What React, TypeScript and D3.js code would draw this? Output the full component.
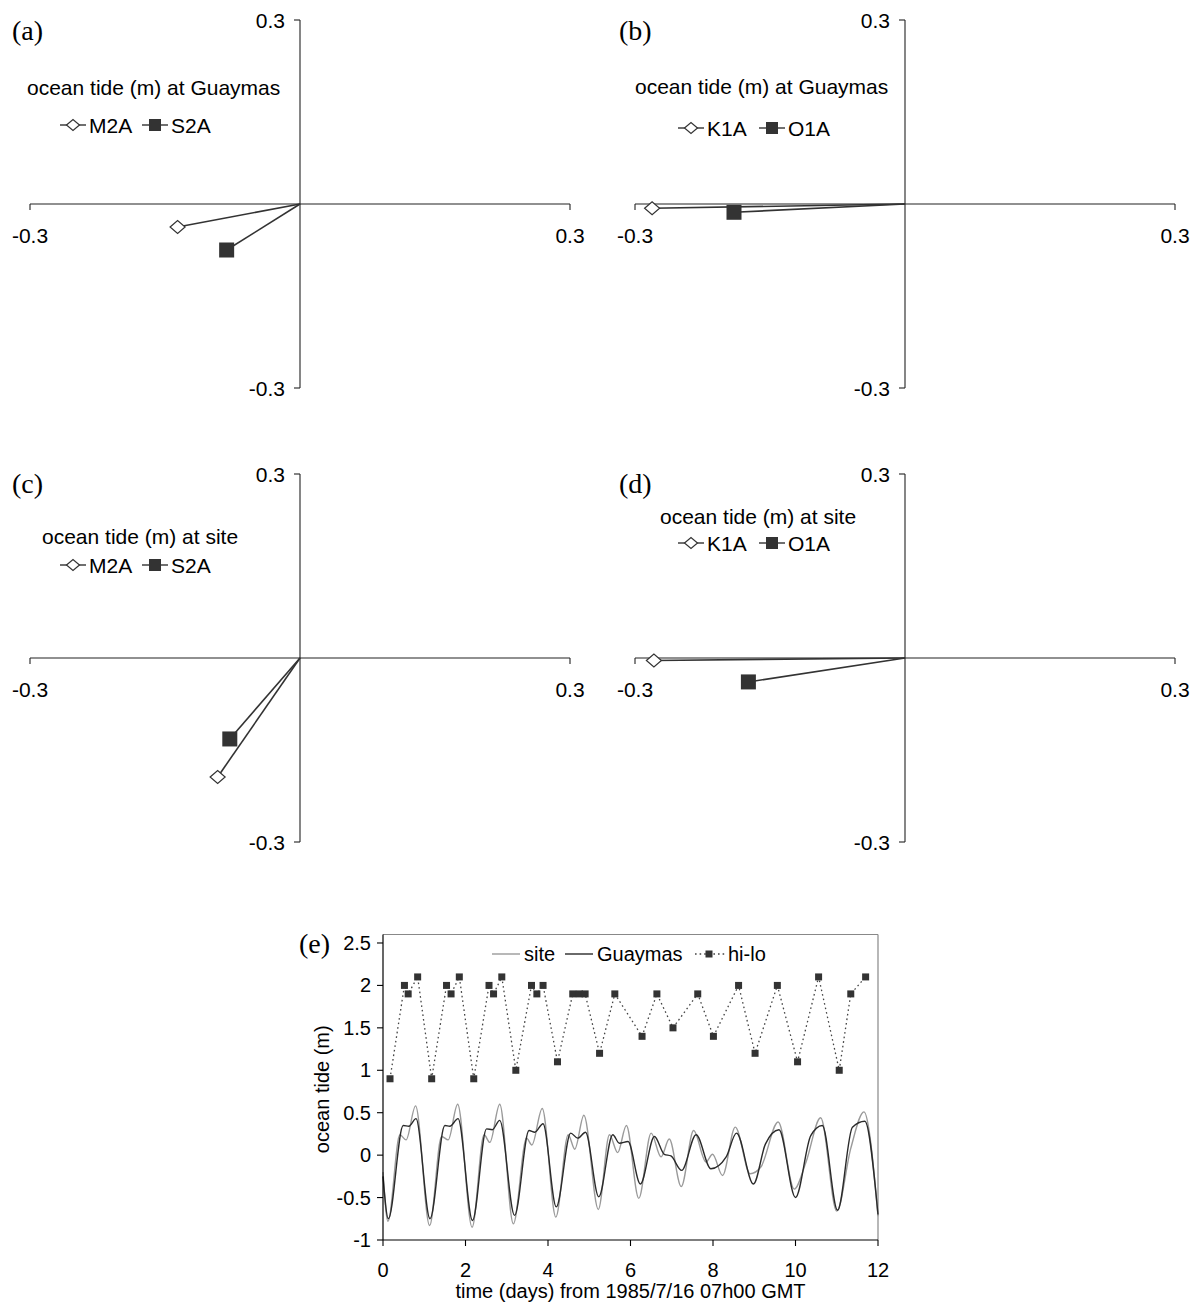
import React from "react";
import * as d3 from "d3";

// ---------- data: phasor panels (a)-(d) ----------
const panelLabels = ["(a)", "(b)", "(c)", "(d)"];
const panelTitles = [
  "ocean tide (m) at Guaymas",
  "ocean tide (m) at Guaymas",
  "ocean tide (m) at site",
  "ocean tide (m) at site",
];
const panelSeries = [
  ["M2A", "S2A"],
  ["K1A", "O1A"],
  ["M2A", "S2A"],
  ["K1A", "O1A"],
];
// [real, imaginary] amplitude components (m)
const guaymasSemidiurnal = [
  [-0.136, -0.0375],
  [-0.0815, -0.075],
];
const guaymasDiurnal = [
  [-0.281, -0.007],
  [-0.19, -0.0135],
];
const siteSemidiurnal = [
  [-0.0915, -0.194],
  [-0.078, -0.132],
];
const siteDiurnal = [
  [-0.279, -0.004],
  [-0.174, -0.039],
];
const phasorTicks = [-0.3, 0.3];

// ---------- data: time series panel (e) ----------
const siteT = [0, 0.12, 0.41, 0.56, 0.79, 1.13, 1.42, 1.58, 1.81, 2.16, 2.45, 2.59, 2.83, 3.16, 3.48, 3.61, 3.86, 4.19, 4.49, 4.65, 4.87, 5.22, 5.49, 5.69, 5.9, 6.2, 6.5, 6.74, 6.94, 7.23, 7.53, 7.83, 7.99, 8.23, 8.54, 8.9, 9.16, 9.58, 9.97, 10.25, 10.61, 11.0, 11.34, 11.66, 12];
const siteV = [-0.2, -0.78, 0.24, 0.18, 0.58, -0.83, 0.22, 0.18, 0.6, -0.85, 0.24, 0.15, 0.6, -0.81, 0.2, 0.12, 0.55, -0.73, 0.24, 0.07, 0.47, -0.64, 0.24, 0.03, 0.35, -0.51, 0.26, -0.02, 0.19, -0.37, 0.29, -0.08, 0.01, -0.24, 0.33, -0.22, -0.14, 0.39, -0.4, -0.09, 0.44, -0.66, 0.08, 0.51, -0.72];
const guaymasT = [0, 0.13, 0.49, 0.63, 0.8, 1.14, 1.5, 1.62, 1.82, 2.17, 2.51, 2.65, 2.83, 3.19, 3.54, 3.68, 3.88, 4.2, 4.55, 4.72, 4.91, 5.23, 5.57, 5.73, 5.94, 6.24, 6.58, 6.82, 6.98, 7.24, 7.59, 7.95, 8.32, 8.57, 8.98, 9.27, 9.6, 10.0, 10.37, 10.65, 11.02, 11.38, 11.68, 12];
const guaymasV = [-0.25, -0.75, 0.35, 0.34, 0.43, -0.75, 0.35, 0.34, 0.43, -0.77, 0.31, 0.3, 0.41, -0.71, 0.29, 0.27, 0.37, -0.61, 0.26, 0.2, 0.27, -0.49, 0.24, 0.14, 0.16, -0.34, 0.22, 0.01, -0.01, -0.18, 0.24, -0.16, -0.02, 0.26, -0.34, 0.13, 0.3, -0.5, 0.23, 0.35, -0.65, 0.33, 0.4, -0.7];
const hiloT = [0.17, 0.52, 0.61, 0.84, 1.18, 1.54, 1.65, 1.85, 2.2, 2.57, 2.68, 2.88, 3.22, 3.6, 3.73, 3.88, 4.23, 4.6, 4.76, 4.9, 5.25, 5.62, 6.28, 6.64, 7.03, 7.63, 8.01, 8.62, 9.02, 9.56, 10.05, 10.56, 11.06, 11.34, 11.7];
const hiloV = [0.9, 2.0, 1.9, 2.1, 0.9, 2.0, 1.9, 2.1, 0.9, 2.0, 1.9, 2.1, 1.0, 2.0, 1.9, 2.0, 1.1, 1.9, 1.9, 1.9, 1.2, 1.9, 1.4, 1.9, 1.5, 1.9, 1.4, 2.0, 1.2, 2.0, 1.1, 2.1, 1.0, 1.9, 2.1];
const tsLegend = ["site", "Guaymas", "hi-lo"];
const tsYTicks = [-1, -0.5, 0, 0.5, 1, 1.5, 2, 2.5];
const tsXTicks = [0, 2, 4, 6, 8, 10, 12];
const tsYTitle = "ocean tide (m)";
const tsXTitle = "time (days) from 1985/7/16 07h00 GMT";

const SANS = "'Liberation Sans', Arial, sans-serif";
const SERIF = "'Liberation Serif', 'Times New Roman', serif";
const INK = "#333";

function Diamond({ x, y, w, h }) {
  return (
    <polygon
      points={`${x - w / 2},${y} ${x},${y - h / 2} ${x + w / 2},${y} ${x},${y + h / 2}`}
      fill="#fff"
      stroke={INK}
      strokeWidth={1.2}
    />
  );
}
function Square({ x, y, s }) {
  return <rect x={x - s / 2} y={y - s / 2} width={s} height={s} fill={INK} />;
}

function fmt(v) {
  return String(v);
}

function Phasor({ idx, data, cx, cy, titleX, titleY, legX, legY, labX, labY }) {
  const x = d3.scaleLinear().domain([-0.3, 0.3]).range([cx - 270, cx + 270]);
  const y = d3.scaleLinear().domain([-0.3, 0.3]).range([cy + 184, cy - 184]);
  const names = panelSeries[idx];
  const x0 = x(0), y0 = y(0);
  return (
    <g>
      <text x={labX} y={labY} fontFamily={SERIF} fontSize={28} fill="#000">
        {panelLabels[idx]}
      </text>
      {/* axes */}
      <line x1={x(-0.3)} x2={x(0.3)} y1={y0} y2={y0} stroke="#222" strokeWidth={1.1} />
      <line x1={x0} x2={x0} y1={y(0.3)} y2={y(-0.3)} stroke="#222" strokeWidth={1.1} />
      {phasorTicks.map((t) => (
        <g key={"h" + t}>
          <line x1={x(t)} x2={x(t)} y1={y0} y2={y0 + 6} stroke="#222" strokeWidth={1.1} />
          <text x={x(t)} y={y0 + 39} textAnchor="middle" fontFamily={SANS} fontSize={21} fill="#000">
            {fmt(t)}
          </text>
        </g>
      ))}
      {phasorTicks.map((t) => (
        <g key={"v" + t}>
          <line x1={x0 - 6} x2={x0} y1={y(t)} y2={y(t)} stroke="#222" strokeWidth={1.1} />
          <text x={x0 - 15} y={y(t) + 8} textAnchor="end" fontFamily={SANS} fontSize={21} fill="#000">
            {fmt(t)}
          </text>
        </g>
      ))}
      {/* vectors */}
      {data.map((d, i) => (
        <line key={"l" + i} x1={x0} y1={y0} x2={x(d[0])} y2={y(d[1])} stroke={INK} strokeWidth={1.6} />
      ))}
      {data.map((d, i) =>
        i === 0 ? (
          <Diamond key={"m" + i} x={x(d[0])} y={y(d[1])} w={15} h={13} />
        ) : (
          <Square key={"m" + i} x={x(d[0])} y={y(d[1])} s={15} />
        )
      )}
      {/* title + legend */}
      <text x={titleX} y={titleY + 7} fontFamily={SANS} fontSize={21} fill="#000">
        {panelTitles[idx]}
      </text>
      {names.map((n, i) => {
        const lx = legX[i];
        return (
          <g key={"lg" + i}>
            <line x1={lx} x2={lx + 26} y1={legY} y2={legY} stroke={INK} strokeWidth={1.4} />
            {i === 0 ? <Diamond x={lx + 13} y={legY} w={13} h={11} /> : <Square x={lx + 13} y={legY} s={12} />}
            <text x={lx + 29} y={legY + 7.5} fontFamily={SANS} fontSize={21} fill="#000">
              {n}
            </text>
          </g>
        );
      })}
    </g>
  );
}

function TimeSeries() {
  const x = d3.scaleLinear().domain([0, 12]).range([383, 878]);
  const y = d3.scaleLinear().domain([-1, 2.6]).range([1240, 934.5]);
  const line = d3
    .line<number>()
    .curve(d3.curveMonotoneX);
  const sitePts = siteT.map((t, i) => [x(t), y(siteV[i])] as [number, number]);
  const guayPts = guaymasT.map((t, i) => [x(t), y(guaymasV[i])] as [number, number]);
  const hiloPts = hiloT.map((t, i) => [x(t), y(hiloV[i])] as [number, number]);
  const lp = d3.line().curve(d3.curveMonotoneX);
  const straight = d3.line();
  const [xmin, xmax] = x.range();
  const [ybot, ytop] = y.range();
  const legY = 954;
  return (
    <g>
      <text x={299} y={953} fontFamily={SERIF} fontSize={28} fill="#000">
        (e)
      </text>
      {/* frame */}
      <line x1={xmin} x2={xmax} y1={ytop} y2={ytop} stroke="#888" strokeWidth={1.2} />
      <line x1={xmax} x2={xmax} y1={ytop} y2={ybot} stroke="#888" strokeWidth={1.2} />
      {/* series */}
      <path d={lp(sitePts) || ""} fill="none" stroke="#9a9a9a" strokeWidth={1.4} />
      <path d={lp(guayPts) || ""} fill="none" stroke="#2a2a2a" strokeWidth={1.4} />
      <path d={straight(hiloPts) || ""} fill="none" stroke="#444" strokeWidth={1.3} strokeDasharray="1.6,3" />
      {hiloPts.map((p, i) => (
        <rect key={i} x={p[0] - 3.5} y={p[1] - 3.5} width={7} height={7} fill={INK} />
      ))}
      {/* axes */}
      <line x1={xmin} x2={xmin} y1={ytop} y2={ybot} stroke="#000" strokeWidth={1.2} />
      <line x1={xmin} x2={xmax} y1={ybot} y2={ybot} stroke="#000" strokeWidth={1.2} />
      {tsYTicks.map((t) => (
        <g key={"y" + t}>
          <line x1={xmin - 6} x2={xmin} y1={y(t)} y2={y(t)} stroke="#000" strokeWidth={1.1} />
          <text x={xmin - 12} y={y(t) + 7} textAnchor="end" fontFamily={SANS} fontSize={20} fill="#000">
            {fmt(t)}
          </text>
        </g>
      ))}
      {tsXTicks.map((t) => (
        <g key={"x" + t}>
          <line x1={x(t)} x2={x(t)} y1={ybot} y2={ybot + 6} stroke="#000" strokeWidth={1.1} />
          <text x={x(t)} y={ybot + 37} textAnchor="middle" fontFamily={SANS} fontSize={20} fill="#000">
            {fmt(t)}
          </text>
        </g>
      ))}
      <text
        transform={`translate(${329},${(ytop + ybot) / 2 + 2}) rotate(-90)`}
        textAnchor="middle"
        fontFamily={SANS}
        fontSize={20}
        fill="#000"
      >
        {tsYTitle}
      </text>
      <text x={(xmin + xmax) / 2} y={1298} textAnchor="middle" fontFamily={SANS} fontSize={20} fill="#000">
        {tsXTitle}
      </text>
      {/* legend */}
      <line x1={492} x2={520} y1={legY} y2={legY} stroke="#9a9a9a" strokeWidth={1.4} />
      <text x={524} y={legY + 7} fontFamily={SANS} fontSize={20} fill="#000">
        {tsLegend[0]}
      </text>
      <line x1={565} x2={593} y1={legY} y2={legY} stroke="#2a2a2a" strokeWidth={1.4} />
      <text x={597} y={legY + 7} fontFamily={SANS} fontSize={20} fill="#000">
        {tsLegend[1]}
      </text>
      <line x1={695} x2={725} y1={legY} y2={legY} stroke="#444" strokeWidth={1.3} strokeDasharray="1.6,3" />
      <rect x={709 - 3.5} y={legY - 3.5} width={7} height={7} fill={INK} />
      <text x={728} y={legY + 7} fontFamily={SANS} fontSize={20} fill="#000">
        {tsLegend[2]}
      </text>
    </g>
  );
}

export default function App() {
  const panels = [
    { data: guaymasSemidiurnal, cx: 300, cy: 204, titleX: 27, titleY: 88, legX: [60, 142], legY: 125, labX: 12, labY: 40 },
    { data: guaymasDiurnal, cx: 905, cy: 204, titleX: 635, titleY: 87, legX: [678, 759], legY: 128, labX: 619, labY: 40 },
    { data: siteSemidiurnal, cx: 300, cy: 658, titleX: 42, titleY: 537, legX: [60, 142], legY: 565, labX: 12, labY: 493 },
    { data: siteDiurnal, cx: 905, cy: 658, titleX: 660, titleY: 517, legX: [678, 759], legY: 543, labX: 619, labY: 493 },
  ];
  return (
    <svg
      width={1202}
      height={1308}
      viewBox="0 0 1202 1308"
      style={{ position: "absolute", left: 0, top: 0, background: "#fff" }}
    >
      <rect x={0} y={0} width={1202} height={1308} fill="#fff" />
      {panels.map((p, i) => (
        <Phasor key={i} idx={i} {...p} />
      ))}
      <TimeSeries />
    </svg>
  );
}
